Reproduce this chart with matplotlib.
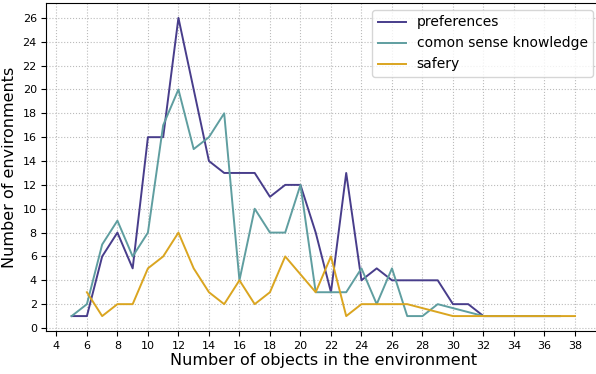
import matplotlib
matplotlib.use("Agg")
import matplotlib.pyplot as plt

# number of objects -> number of environments
pref_x = [5, 6, 7, 8, 9, 10, 11, 12, 13, 14, 15, 16, 17, 18, 19, 20, 21, 22, 23, 24,
          25, 26, 27, 28, 29, 30, 31, 32, 33, 34, 35, 36, 37]
pref_y = [1, 1, 6, 8, 5, 16, 16, 26, 20, 14, 13, 13, 13, 11, 12, 12, 8, 3, 13, 4,
          5, 4, 4, 4, 4, 2, 2, 1, 1, 1, 1, 1, 1]

common_x = [5, 6, 7, 8, 9, 10, 11, 12, 13, 14, 15, 16, 17, 18, 19, 20, 21, 22, 23, 24,
            25, 26, 27, 28, 29, 32, 33, 34, 35, 36, 37]
common_y = [1, 2, 7, 9, 6, 8, 17, 20, 15, 16, 18, 4, 10, 8, 8, 12, 3, 3, 3, 5,
            2, 5, 1, 1, 2, 1, 1, 1, 1, 1, 1]

safety_x = [6, 7, 8, 9, 10, 11, 12, 13, 14, 15, 16, 17, 18, 19, 21, 22, 23, 24,
            25, 26, 27, 30, 31, 32, 33, 34, 35, 36, 37, 38]
safety_y = [3, 1, 2, 2, 5, 6, 8, 5, 3, 2, 4, 2, 3, 6, 3, 6, 1, 2,
            2, 2, 2, 1, 1, 1, 1, 1, 1, 1, 1, 1]

fig = plt.figure(figsize=(5.96, 3.74), dpi=100)
ax = fig.add_axes([0.078, 0.115, 0.929, 0.877])

ax.plot(pref_x, pref_y, color="darkslateblue", lw=1.4, label="preferences")
ax.plot(common_x, common_y, color="cadetblue", lw=1.4, label="comon sense knowledge")
ax.plot(safety_x, safety_y, color="goldenrod", lw=1.4, label="safery")

ax.set_xticks(range(4, 39, 2))
ax.set_yticks(range(0, 27, 2))
ax.tick_params(labelsize=8)
ax.grid(True, linestyle=":", color="#bbbbbb", linewidth=0.8)
ax.set_xlabel("Number of objects in the environment", fontsize=11.5, labelpad=2)
ax.set_ylabel("Number of environments", fontsize=11.5)
ax.legend(loc="upper right", fontsize=10)

fig.savefig("out.png", dpi=100)
